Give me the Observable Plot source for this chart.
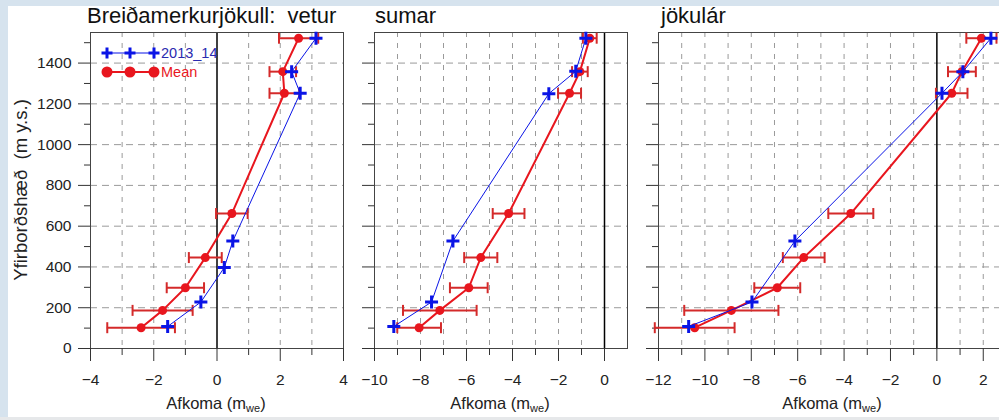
<!DOCTYPE html>
<html><head><meta charset="utf-8">
<script src="https://cdn.jsdelivr.net/npm/d3@7"></script>
<script src="https://cdn.jsdelivr.net/npm/@observablehq/plot@0.6"></script>
<style>
body{margin:0;background:#d6e3ee;}
#wrap{position:relative;width:999px;height:420px;overflow:hidden;font-family:"Liberation Sans",Arial,sans-serif;}
#card{position:absolute;left:8px;top:6px;width:991px;height:411px;background:#fff;}
#foot{position:absolute;left:0;top:417px;width:999px;height:3px;background:#e6e8ea;}
.panel{position:absolute;top:0;}
.title{position:absolute;top:6px;font-size:22px;line-height:20px;color:#111;white-space:pre;}
.xlab{position:absolute;top:394px;font-size:16.5px;line-height:18px;color:#222;white-space:pre;transform:translateX(-50%);}
.xlab sub{font-size:11px;vertical-align:-3px;line-height:0;}
#ylab{position:absolute;left:21px;top:190px;font-size:18.5px;color:#222;white-space:pre;transform:translate(-50%,-50%) rotate(-90deg);}
#legend{position:absolute;left:95px;top:40px;}
</style></head>
<body><div id="wrap"><div id="card"></div><div id="foot"></div></div>
<script>
// ---- data ----
const meanAlt = [102, 187, 298, 446, 662, 1252, 1358, 1522];
const veturMean = [-2.40, -1.72, -1.00, -0.37, 0.47, 2.13, 2.08, 2.58];
const veturErr  = [1.07, 0.95, 0.59, 0.52, 0.50, 0.47, 0.42, 0.62];
const sumarMean = [-8.06, -7.16, -5.90, -5.38, -4.17, -1.52, -1.07, -0.64];
const sumarErr  = [0.95, 1.60, 0.82, 0.72, 0.69, 0.50, 0.34, 0.30];
const jokularMean = [-10.44, -8.86, -6.88, -5.74, -3.71, 0.64, 1.08, 1.92];
const jokularErr  = [1.72, 2.03, 0.99, 0.90, 0.97, 0.68, 0.60, 0.65];

const veturAlt14 = [108, 228, 397, 527, 1252, 1358, 1522];
const veturVal14 = [-1.56, -0.51, 0.23, 0.50, 2.63, 2.36, 3.13];
const sumarAlt14 = [108, 228, 527, 1250, 1360, 1522];
const sumarVal14 = [-9.16, -7.52, -6.59, -2.42, -1.25, -0.81];
const jokularAlt14 = [108, 228, 527, 1252, 1358, 1522];
const jokularVal14 = [-10.70, -7.97, -6.12, 0.22, 1.12, 2.33];

const panelTitles = ["Breiðamerkurjökull:  vetur", "sumar", "jökulár"];
const seriesNames = ["2013_14", "Mean"];
const yTicksMajor = [0, 200, 400, 600, 800, 1000, 1200, 1400];
const yTicksMinor = [100, 300, 500, 700, 900, 1100, 1300, 1500];
const yGrid = [200, 400, 600, 800, 1000, 1200, 1400];
const yDomain = [0, 1550];

const RED = "#e8161e", ERR = "#d42a2a", BLUE = "#0a14e6";

const capSymbol = {draw(ctx, size){const r = Math.sqrt(size/Math.PI); ctx.moveTo(0,-r); ctx.lineTo(0,r);}};
const plusSymbol = {draw(ctx, size){const r = Math.sqrt(size/Math.PI); ctx.moveTo(-r,0); ctx.lineTo(r,0); ctx.moveTo(0,-r); ctx.lineTo(0,r);}};

function makePanel(cfg){
  const meanData = meanAlt.map((a,i)=>({alt:a, v:cfg.mean[i], lo:cfg.mean[i]-cfg.err[i], hi:cfg.mean[i]+cfg.err[i]}));
  const yrData = cfg.alt14.map((a,i)=>({alt:a, v:cfg.val14[i]}));
  const [x0,x1] = cfg.xDomain;
  const ints = d3.range(Math.ceil(x0), Math.floor(x1)+1);
  const xGrid = ints.filter(d => d !== 0 && d > x0 && d < x1);
  const xMajor = ints.filter(d => d % 2 === 0);
  const xMinor = ints.filter(d => d % 2 !== 0 && d < x1);
  const p = Plot.plot({
    width: cfg.width, height: 420,
    marginTop: 32, marginBottom: 72, marginLeft: cfg.mL, marginRight: cfg.mR,
    x: {domain: cfg.xDomain}, y: {domain: yDomain},
    style: {fontFamily: '"Liberation Sans", Arial, sans-serif', fontSize: "15.5px", color: "#222", background: "transparent", overflow: "visible"},
    marks: [
      Plot.gridX(xGrid, {stroke: "#9a9a9a", strokeOpacity: 1, strokeDasharray: "5,6"}),
      Plot.gridY(yGrid, {stroke: "#9a9a9a", strokeOpacity: 1, strokeDasharray: "7,5"}),
      Plot.ruleX([0], {stroke: "#000", strokeWidth: 1.5}),
      Plot.frame({stroke: "#444"}),
      Plot.axisX({ticks: xMajor, tickSize: 13, tickPadding: 12, label: null, stroke: "#333", fontSize: 15.5}),
      Plot.axisX({ticks: xMinor, tickSize: 7, tickFormat: () => "", label: null, stroke: "#333"}),
      Plot.axisY({ticks: yTicksMajor, tickSize: 12, tickPadding: 7, label: null, stroke: "#333", fontSize: 15.5,
                  tickFormat: cfg.showY ? (d => String(d)) : (() => "")}),
      Plot.axisY({ticks: yTicksMinor, tickSize: 6, tickFormat: () => "", label: null, stroke: "#333"}),
      // mean with error bars
      Plot.ruleY(meanData, {y: "alt", x1: "lo", x2: "hi", stroke: ERR, strokeWidth: 2}),
      Plot.dot(meanData, {x: "lo", y: "alt", symbol: capSymbol, r: 5.5, stroke: ERR, strokeWidth: 2, fill: "none"}),
      Plot.dot(meanData, {x: "hi", y: "alt", symbol: capSymbol, r: 5.5, stroke: ERR, strokeWidth: 2, fill: "none"}),
      Plot.line(meanData, {x: "v", y: "alt", stroke: RED, strokeWidth: 2, curve: cfg.curve}),
      Plot.dot(meanData, {x: "v", y: "alt", r: 4.5, fill: RED, stroke: "none"}),
      // 2013_14
      Plot.line(yrData, {x: "v", y: "alt", stroke: BLUE, strokeWidth: 1, curve: cfg.curve}),
      Plot.dot(yrData, {x: "v", y: "alt", symbol: plusSymbol, r: 6.5, stroke: BLUE, strokeWidth: 3, fill: "none"})
    ]
  });
  p.classList.add("panel");
  p.style.left = cfg.left + "px";
  document.getElementById("wrap").appendChild(p);

  const t = document.createElement("div");
  t.className = "title"; t.textContent = cfg.title; t.style.left = cfg.titleX + "px";
  document.getElementById("wrap").appendChild(t);
  const xl = document.createElement("div");
  xl.className = "xlab"; xl.innerHTML = "Afkoma (m<sub>we</sub>)"; xl.style.left = cfg.labX + "px";
  document.getElementById("wrap").appendChild(xl);
}

makePanel({left: 40, width: 310, mL: 50, mR: 7, xDomain: [-4, 4], mean: veturMean, err: veturErr,
  alt14: veturAlt14, val14: veturVal14, curve: "linear", showY: true, title: panelTitles[0], titleX: 87, labX: 216});
makePanel({left: 344, width: 290, mL: 30, mR: 7, xDomain: [-10, 1], mean: sumarMean, err: sumarErr,
  alt14: sumarAlt14, val14: sumarVal14, curve: "linear", showY: false, title: panelTitles[1], titleX: 375, labX: 500});
makePanel({left: 628, width: 372, mL: 30, mR: 1, xDomain: [-12, 2.7], mean: jokularMean, err: jokularErr,
  alt14: jokularAlt14, val14: jokularVal14, curve: "linear", showY: false, title: panelTitles[2], titleX: 661, labX: 832});

const yl = document.createElement("div");
yl.id = "ylab"; yl.textContent = "Yfirborðshæð  (m y.s.)";
document.getElementById("wrap").appendChild(yl);

// legend
const lg = d3.select("#wrap").append("svg").attr("id","legend").attr("width", 130).attr("height", 45)
  .style("font-family", '"Liberation Sans", Arial, sans-serif').style("font-size", "14.5px");
const rows = [{name: seriesNames[0], color: BLUE, y: 13}, {name: seriesNames[1], color: RED, y: 32}];
rows.forEach(r => {
  const g = lg.append("g");
  g.append("line").attr("x1", 12).attr("x2", 59).attr("y1", r.y).attr("y2", r.y).attr("stroke", r.color).attr("stroke-width", r.color === RED ? 2 : 1.2);
  [12, 35, 59].forEach(x => {
    if (r.color === RED) g.append("circle").attr("cx", x).attr("cy", r.y).attr("r", 5.5).attr("fill", RED);
    else g.append("path").attr("d", `M${x-5.5},${r.y}H${x+5.5}M${x},${r.y-5.5}V${r.y+5.5}`).attr("stroke", BLUE).attr("stroke-width", 3);
  });
  g.append("text").attr("x", 66).attr("y", r.y + 5).attr("fill", r.color === RED ? RED : "#2a2ab0").text(r.name);
});
</script></body></html>
